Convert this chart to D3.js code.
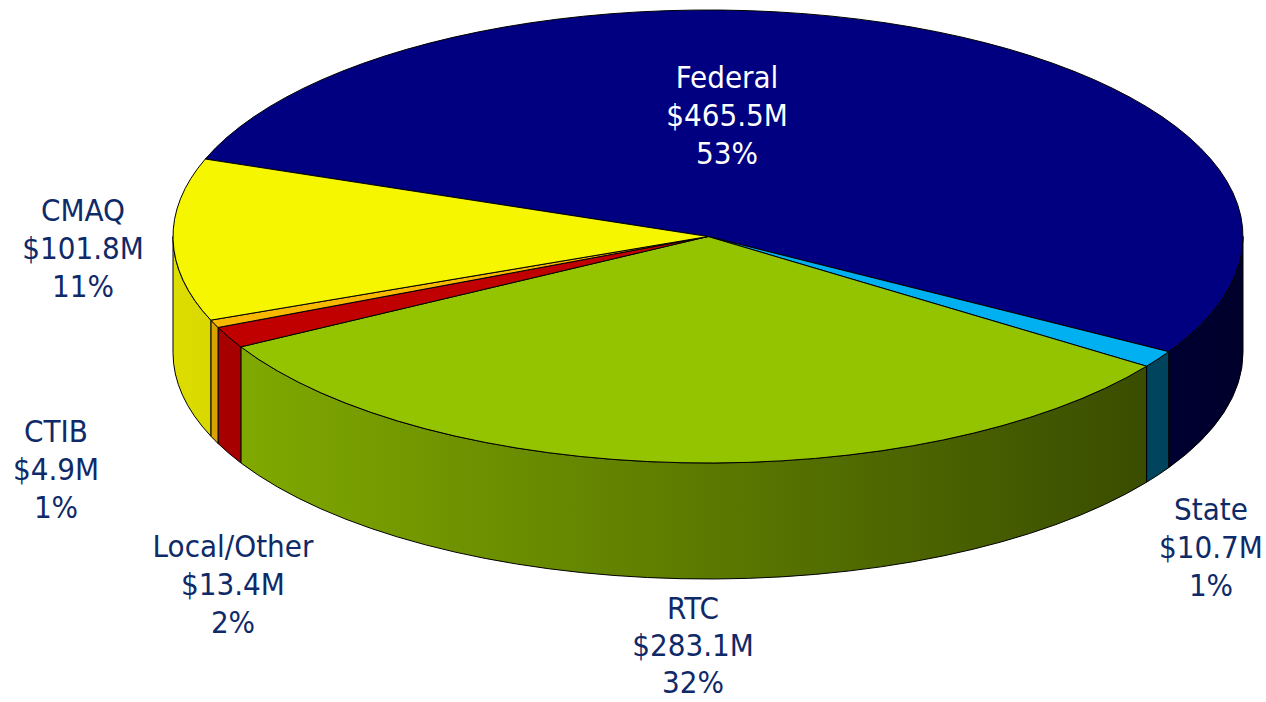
<!DOCTYPE html>
<html>
<head>
<meta charset="utf-8">
<script src="https://cdn.jsdelivr.net/npm/d3@7"></script>
<style>
  body { margin: 0; background: #fff; }
  svg { display: block; }
  text { font-family: "DejaVu Sans Condensed", "Liberation Sans", sans-serif; }
</style>
</head>
<body>
<svg id="svg-container" width="1266" height="702"></svg>
<script>
// funding sources, clockwise from the Federal slice
const sources = ['Federal', 'State', 'RTC', 'Local/Other', 'CTIB', 'CMAQ']
const amounts = [465.5, 10.7, 283.1, 13.4, 4.9, 101.8]
const amountLabels = ['$465.5M', '$10.7M', '$283.1M', '$13.4M', '$4.9M', '$101.8M']
const percentLabels = ['53%', '1%', '32%', '2%', '1%', '11%']
const colors = ['#000080', '#00b0f0', '#94c400', '#c00000', '#f8b800', '#f6f600']

// label anchors (centre x, first baseline)
const labelAnchors = {
  Federal: [727, 88],
  State: [1211, 520],
  RTC: [693, 619],
  'Local/Other': [233, 557],
  CTIB: [56, 442],
  CMAQ: [83, 221],
}

const cx = 708
const cy = 236.5
const rx = 535
const ry = 226.5
const depth = 116
const lineGap = 38

const svg = d3.select('#svg-container')
const defs = svg.append('defs')

const pie = d3.pie()
  .sort(null)
  .value(d => d)
  .startAngle(-70 * Math.PI / 180)
  .endAngle(-70 * Math.PI / 180 + 2 * Math.PI)
const slices = pie(amounts)

// side faces get darker towards the right
const shade = d3.scaleLinear().domain([cx - rx, cx + rx]).range([0.9, 0.34])

function scaled(c, k) {
  const rgb = d3.rgb(c)
  return d3.rgb(rgb.r * k, rgb.g * k, rgb.b * k).formatHex()
}

function pt(a, dy = 0) {
  return [cx + rx * Math.sin(a), cy - ry * Math.cos(a) + dy]
}

function topPath(a0, a1) {
  const p0 = pt(a0)
  const p1 = pt(a1)
  const large = a1 - a0 > Math.PI ? 1 : 0
  return `M ${cx} ${cy} L ${p0[0]} ${p0[1]} A ${rx} ${ry} 0 ${large} 1 ${p1[0]} ${p1[1]} Z`
}

function sidePath(a0, a1) {
  const p0 = pt(a0)
  const p1 = pt(a1)
  const q1 = pt(a1, depth)
  const q0 = pt(a0, depth)
  return `M ${p0[0]} ${p0[1]} A ${rx} ${ry} 0 0 1 ${p1[0]} ${p1[1]}` +
    ` L ${q1[0]} ${q1[1]} A ${rx} ${ry} 0 0 0 ${q0[0]} ${q0[1]} Z`
}

slices.forEach((s, i) => {
  const grad = defs.append('linearGradient')
    .attr('id', 'side' + i)
    .attr('gradientUnits', 'userSpaceOnUse')
    .attr('x1', cx - rx).attr('x2', cx + rx)
    .attr('y1', 0).attr('y2', 0)
  grad.append('stop').attr('offset', 0).attr('stop-color', scaled(colors[i], shade(cx - rx)))
  grad.append('stop').attr('offset', 1).attr('stop-color', scaled(colors[i], shade(cx + rx)))
})

// visible outer walls (front half only)
const front0 = Math.PI / 2
const front1 = 3 * Math.PI / 2
svg.append('g')
  .selectAll('path')
  .data(slices.filter(s => s.endAngle > front0 && s.startAngle < front1))
  .join('path')
  .attr('d', s => sidePath(Math.max(s.startAngle, front0), Math.min(s.endAngle, front1)))
  .attr('fill', s => `url(#side${s.index})`)
  .attr('stroke', '#000')
  .attr('stroke-width', 1)
  .attr('stroke-linejoin', 'round')

// top faces
svg.append('g')
  .selectAll('path')
  .data(slices)
  .join('path')
  .attr('d', s => topPath(s.startAngle, s.endAngle))
  .attr('fill', s => colors[s.index])
  .attr('stroke', '#000')
  .attr('stroke-width', 1)
  .attr('stroke-linejoin', 'round')

// labels
const labels = svg.append('g')
  .selectAll('text')
  .data(sources)
  .join('text')
  .attr('text-anchor', 'middle')
  .attr('font-size', 31)
  .attr('fill', (d, i) => i === 0 ? '#ffffff' : '#0f2a68')
  .attr('x', d => labelAnchors[d][0])
  .attr('y', d => labelAnchors[d][1])

labels.each(function (d, i) {
  const t = d3.select(this)
  const lines = [d, amountLabels[i], percentLabels[i]]
  const gap = d === 'RTC' ? 37 : lineGap
  lines.forEach((line, j) => {
    t.append('tspan')
      .attr('x', labelAnchors[d][0])
      .attr('y', labelAnchors[d][1] + j * gap)
      .text(line)
  })
})
</script>
</body>
</html>
